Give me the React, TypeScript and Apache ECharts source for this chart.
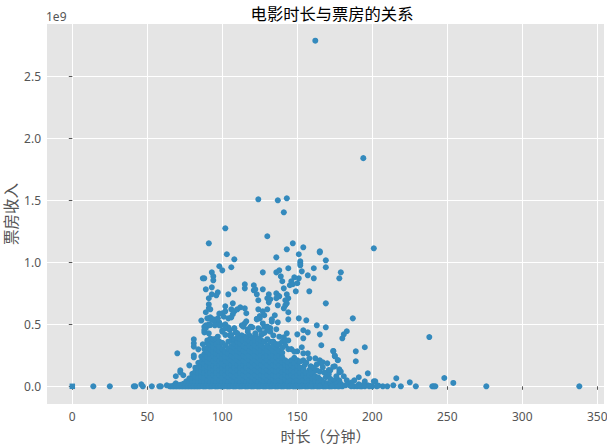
import React, { useEffect, useRef } from "react";
import * as echarts from "echarts";

const xTicks = [0, 50, 100, 150, 200, 250, 300, 350];
const yTicks = [0, 0.5, 1, 1.5, 2, 2.5];
const zeroRuntime: [number, number][] = [[0, 0]];

const sparseUpper: [number, number][] = [
  [162, 2.787], [194, 1.84], [124, 1.508], [137, 1.5], [143, 1.516], [141, 1.403], [102, 1.274], [130, 1.21],
  [91, 1.153], [147, 1.153], [154, 1.121], [143, 1.105], [165, 1.089], [165, 1.08], [201, 1.113], [103, 1.065],
  [151, 1.065], [108, 1.024], [136, 1.04], [169, 1.016], [152, 1.008], [152, 0.992], [152, 0.976], [98, 0.968],
  [106, 0.96], [169, 0.96], [144, 0.952], [161, 0.952], [93, 0.919], [100, 0.935], [138, 0.935], [136, 0.919],
  [127, 0.919], [153, 0.927], [179, 0.919], [94, 0.887], [94, 0.855], [87, 0.871], [88, 0.871], [139, 0.887],
  [157, 0.895], [148, 0.879], [151, 0.871], [161, 0.871], [178, 0.871], [140, 0.847], [146, 0.847], [145, 0.815],
  [147, 0.823], [150, 0.831], [89, 0.782], [93, 0.798], [108, 0.782], [115, 0.823], [115, 0.79], [121, 0.815],
  [121, 0.774], [122, 0.782], [123, 0.742], [127, 0.782], [141, 0.79], [149, 0.766], [158, 0.766], [97, 0.758],
  [93, 0.742], [96, 0.734], [104, 0.742], [131, 0.742], [136, 0.75], [137, 0.734], [143, 0.742], [138, 0.726],
  [91, 0.71], [124, 0.694], [130, 0.71], [132, 0.702], [131, 0.677], [136, 0.71], [144, 0.71], [142, 0.694],
  [107, 0.669], [91, 0.661], [143, 0.669], [137, 0.653], [142, 0.653], [169, 0.669], [102, 0.645], [91, 0.629],
  [92, 0.621], [89, 0.597], [98, 0.586], [100, 0.589], [102, 0.605], [106, 0.621], [108, 0.605], [107, 0.581],
  [112, 0.637], [115, 0.629], [110, 0.621], [116, 0.589], [124, 0.621], [127, 0.605], [130, 0.621], [141, 0.629],
  [144, 0.597], [135, 0.573], [128, 0.573], [125, 0.548], [123, 0.54], [133, 0.54], [144, 0.54], [151, 0.548],
  [156, 0.532], [187, 0.548], [137, 0.516], [106, 0.556], [104, 0.548], [125, 0.567], [86, 0.53], [90, 0.548],
  [92, 0.556], [94, 0.54], [95, 0.524], [98, 0.513], [91, 0.5], [89, 0.492], [89, 0.468], [88, 0.435],
  [91, 0.492], [95, 0.492], [98, 0.492], [100, 0.452], [102, 0.5], [104, 0.476], [108, 0.468], [109, 0.435],
  [113, 0.492], [116, 0.524], [115, 0.508], [120, 0.476], [117, 0.46], [124, 0.468], [105, 0.411], [113, 0.411],
  [118, 0.411], [122, 0.427], [163, 0.492], [169, 0.476], [183, 0.444], [181, 0.419], [180, 0.387], [154, 0.452],
  [157, 0.435], [143, 0.427], [150, 0.419], [165, 0.419], [136, 0.46], [154, 0.387], [238, 0.397], [132, 0.47],
  [128, 0.48], [130, 0.45],
];

// the thick band of dots just above the solid mass
const bandPoints: [number, number][] = [
  [93, 0.535], [97, 0.548], [101, 0.561], [88, 0.48], [92, 0.494], [91, 0.427], [88, 0.454], [102, 0.467],
  [99, 0.494], [105, 0.454], [108, 0.467], [110, 0.427], [114, 0.481], [119, 0.481], [123, 0.543], [125, 0.454],
  [127, 0.507], [130, 0.481], [132, 0.44], [133, 0.521], [117, 0.44], [122, 0.415], [126, 0.414], [106, 0.414],
  [100, 0.44], [102, 0.414], [134, 0.41], [138, 0.4], [141, 0.395], [128, 0.43], [115, 0.4], [97, 0.4],
];

const sparseLower: [number, number][] = [
  [81, 0.379], [81, 0.347], [81, 0.32], [87, 0.339], [84, 0.298], [70, 0.266], [81, 0.25], [81, 0.234],
  [78, 0.169], [72, 0.129], [72, 0.113], [74, 0.089], [69, 0.081], [69, 0.024], [63, 0.008], [59, 0], [58, 0],
  [14, 0], [25, 0], [41, 0], [42, 0], [46, 0.016], [47, 0], [53, 0], [166, 0.331], [153, 0.315], [195, 0.315],
  [174, 0.282], [189, 0.282], [175, 0.242], [177, 0.21], [189, 0.202], [157, 0.266], [154, 0.266], [150, 0.282],
  [158, 0.226], [162, 0.226], [154, 0.21], [163, 0.177], [165, 0.21], [167, 0.194], [170, 0.185], [150, 0.169],
  [159, 0.161], [175, 0.161], [178, 0.137], [178, 0.113], [172, 0.129], [197, 0.105], [167, 0.153], [163, 0.129],
  [161, 0.121], [154, 0.145], [181, 0.081], [191, 0.073], [216, 0.065], [171, 0.097], [169, 0.073], [165, 0.056],
  [175, 0.048], [178, 0.048], [183, 0.048], [188, 0.048], [195, 0.04], [201, 0.04], [202, 0.04], [225, 0.032],
  [184, 0.016], [191, 0.016], [214, 0.008], [219, 0], [229, 0], [207, 0], [197, 0.008], [200, 0], [180, 0],
  [188, 0], [185, 0.008], [175, 0], [171, 0], [167, 0], [161, 0], [156, 0.008], [240, 0], [241, 0], [242, 0],
  [248, 0.067], [254, 0.027], [276, 0], [338, 0], [182, 0.008], [177, 0], [173, 0.02], [193, 0], [199, 0.002],
  [155, 0.172], [166, 0.185], [159, 0.158], [171, 0.131], [174, 0.158], [165, 0.118], [179, 0.118], [177, 0.212],
  [174, 0.285], [175, 0.247], [176, 0.02], [179, 0.02], [186, 0.03], [194, 0.012], [204, 0.006], [210, 0],
  [168, 0.11], [172, 0.06], [176, 0.08], [158, 0.13], [161, 0.15], [156, 0.19],
];

// the flat foot of the mass: films at this runtime that earned almost nothing
const baseRuntimes = [
  65, 67, 69, 71, 73, 75, 77, 79, 81, 83, 85, 87, 89, 91, 93, 95, 97, 99, 101, 103, 105, 107, 109, 111, 113, 115,
  117, 119, 121, 123, 125, 127, 129, 131, 133, 135, 137, 139, 141, 143, 145, 147, 149, 151, 153, 155, 157, 159,
  163, 165, 169, 173, 178, 186, 190, 192, 195, 198, 203,
];

// the solid mass: one list of box office values per runtime
const denseRuntimes = [
  66, 68, 70, 72, 74, 76, 78, 80, 82, 84, 86, 88, 90, 92, 94, 96, 98, 100, 102, 104, 106, 108, 110, 112, 114, 116,
  118, 120, 122, 124, 126, 128, 130, 132, 134, 136, 138, 140, 142, 144, 146, 148, 150, 152, 154, 156, 158, 160, 162,
  164, 166, 168, 170, 172, 174,
];
const denseValues: number[][] = [
  [0], [0, 0.01], [0, 0.01], [0, 0.012], [0, 0.02], [0, 0.015, 0.04], [0, 0.03, 0.065],
  [0, 0.035, 0.07, 0.1], [0, 0.04, 0.08, 0.12, 0.15], [0, 0.03, 0.07, 0.11, 0.15, 0.19],
  [0.01, 0.045, 0.08, 0.12, 0.16, 0.2, 0.24], [0, 0.035, 0.07, 0.11, 0.15, 0.185, 0.22, 0.26, 0.3],
  [0.015, 0.05, 0.09, 0.125, 0.16, 0.2, 0.24, 0.28, 0.31, 0.35, 0.37],
  [0, 0.035, 0.07, 0.11, 0.15, 0.19, 0.225, 0.26, 0.3, 0.335, 0.37, 0.385],
  [0.015, 0.05, 0.09, 0.13, 0.165, 0.205, 0.245, 0.28, 0.32, 0.355, 0.38],
  [0, 0.035, 0.07, 0.11, 0.15, 0.19, 0.225, 0.265, 0.3, 0.34, 0.385],
  [0.01, 0.05, 0.09, 0.13, 0.17, 0.205, 0.245, 0.285, 0.32, 0.36],
  [0, 0.035, 0.07, 0.11, 0.15, 0.185, 0.225, 0.26, 0.3, 0.35],
  [0.015, 0.05, 0.09, 0.13, 0.165, 0.205, 0.24, 0.28, 0.33],
  [0, 0.035, 0.075, 0.11, 0.15, 0.19, 0.23, 0.265, 0.305, 0.36],
  [0.01, 0.05, 0.09, 0.13, 0.17, 0.21, 0.245, 0.285, 0.325, 0.37],
  [0, 0.04, 0.075, 0.115, 0.15, 0.19, 0.23, 0.27, 0.31, 0.345, 0.38],
  [0.015, 0.05, 0.09, 0.13, 0.17, 0.21, 0.25, 0.29, 0.325, 0.36, 0.39],
  [0, 0.035, 0.07, 0.11, 0.15, 0.19, 0.23, 0.27, 0.305, 0.345, 0.385],
  [0.01, 0.05, 0.09, 0.13, 0.17, 0.205, 0.245, 0.285, 0.325, 0.37],
  [0, 0.035, 0.075, 0.115, 0.15, 0.19, 0.23, 0.27, 0.31, 0.35, 0.385],
  [0.015, 0.05, 0.09, 0.13, 0.17, 0.21, 0.25, 0.285, 0.325, 0.365],
  [0, 0.04, 0.075, 0.115, 0.155, 0.195, 0.23, 0.27, 0.31, 0.35, 0.39],
  [0.01, 0.05, 0.09, 0.13, 0.17, 0.21, 0.25, 0.29, 0.33, 0.37],
  [0, 0.035, 0.075, 0.115, 0.155, 0.19, 0.23, 0.27, 0.31, 0.35, 0.385],
  [0.015, 0.055, 0.09, 0.13, 0.17, 0.21, 0.25, 0.29, 0.33, 0.37],
  [0, 0.04, 0.08, 0.12, 0.155, 0.195, 0.235, 0.275, 0.31, 0.36],
  [0.01, 0.05, 0.09, 0.13, 0.17, 0.21, 0.25, 0.29, 0.33, 0.38],
  [0, 0.035, 0.075, 0.115, 0.155, 0.195, 0.235, 0.27, 0.31, 0.36],
  [0.015, 0.055, 0.09, 0.13, 0.17, 0.21, 0.25, 0.29, 0.33, 0.36],
  [0, 0.04, 0.08, 0.12, 0.16, 0.195, 0.235, 0.27, 0.31, 0.34],
  [0.01, 0.05, 0.09, 0.13, 0.17, 0.21, 0.25, 0.29, 0.34],
  [0, 0.035, 0.075, 0.115, 0.155, 0.195, 0.235, 0.27, 0.31, 0.36],
  [0.015, 0.055, 0.095, 0.135, 0.175, 0.21, 0.33, 0.37],
  [0, 0.04, 0.08, 0.12, 0.16, 0.195, 0.3, 0.37],
  [0.01, 0.05, 0.09, 0.13, 0.17, 0.21, 0.3],
  [0, 0.04, 0.075, 0.115, 0.155, 0.19, 0.23, 0.28],
  [0.015, 0.05, 0.09, 0.13, 0.165, 0.21],
  [0, 0.035, 0.075, 0.11, 0.15, 0.2],
  [0.01, 0.05, 0.09, 0.13],
  [0, 0.035, 0.07, 0.11],
  [0.01, 0.05, 0.09],
  [0, 0.03, 0.06, 0.1],
  [0.01, 0.045, 0.08],
  [0, 0.03, 0.07],
  [0.01, 0.05],
  [0, 0.03],
  [0.01, 0.025],
  [0, 0.015],
  [0.005],
];

function buildPoints(): [number, number][] {
  const dense: [number, number][] = [];
  denseRuntimes.forEach((minutes, i) => {
    (denseValues[i] || []).forEach((value) => dense.push([minutes, value]));
  });
  const base = baseRuntimes.map((minutes): [number, number] => [minutes, 0]);
  return [...sparseUpper, ...bandPoints, ...sparseLower, ...dense, ...base];
}

export default function App() {
  const ref = useRef<HTMLDivElement>(null);
  useEffect(() => {
    const chart = echarts.init(ref.current!, undefined, { renderer: "svg" });
    const fontFamily = '"Noto Sans CJK SC", "Noto Sans", sans-serif';
    const axisBase = {
      type: "value" as const,
      axisLine: { show: false },
      axisTick: { show: true, length: 3.5, lineStyle: { color: "#555555", width: 1 } },
      splitLine: { show: true, lineStyle: { color: "#ffffff", width: 1 } },
    };
    chart.setOption({
      animation: false,
      backgroundColor: "#ffffff",
      title: {
        text: "电影时长与票房的关系",
        left: 327,
        top: 0,
        textAlign: "center",
        textStyle: { color: "#000000", fontSize: 16.3, fontWeight: "normal", fontFamily },
      },
      grid: {
        left: 47,
        right: 3,
        top: 24,
        bottom: 44,
        backgroundColor: "#E5E5E5",
        show: true,
        borderWidth: 0,
        outerBoundsMode: "none",
      },
      xAxis: {
        ...axisBase,
        min: -16.87,
        max: 354.47,
        name: "时长（分钟）",
        nameLocation: "middle",
        nameGap: 24,
        nameMoveOverlap: false,
        nameTextStyle: { color: "#555555", fontSize: 15, fontFamily },
        axisTick: { ...axisBase.axisTick, customValues: xTicks },
        axisLabel: { customValues: xTicks, color: "#555555", fontSize: 12, margin: 6, fontFamily: '"Noto Sans", sans-serif', hideOverlap: false },
      },
      yAxis: {
        ...axisBase,
        min: -0.1427,
        max: 2.9218,
        name: "票房收入",
        nameLocation: "middle",
        nameGap: 29,
        nameMoveOverlap: false,
        nameTextStyle: { color: "#555555", fontSize: 15.5, fontFamily },
        axisTick: { ...axisBase.axisTick, customValues: yTicks },
        axisLabel: {
          customValues: yTicks,
          color: "#555555",
          fontSize: 12,
          margin: 6,
          fontFamily: '"Noto Sans", sans-serif',
          formatter: (v: number) => v.toFixed(1),
        },
      },
      graphic: [
        {
          type: "text",
          x: 46,
          y: 10,
          style: { text: "1e9", fill: "#555555", fontSize: 12, fontFamily: '"Noto Sans", sans-serif' },
        },
      ],
      series: [
        {
          type: "scatter",
          data: buildPoints(),
          symbol: "circle",
          symbolSize: 6,
          itemStyle: { color: "#348ABD", opacity: 1 },
          silent: true,
          large: false,
        },
        {
          type: "scatter",
          data: zeroRuntime,
          symbol: "rect",
          symbolSize: 5.5,
          itemStyle: { color: "#348ABD", opacity: 1 },
          silent: true,
        },
      ],
    });
    return () => chart.dispose();
  }, []);
  return <div ref={ref} style={{ position: "fixed", left: 0, top: 0, width: 607, height: 448 }} />;
}
